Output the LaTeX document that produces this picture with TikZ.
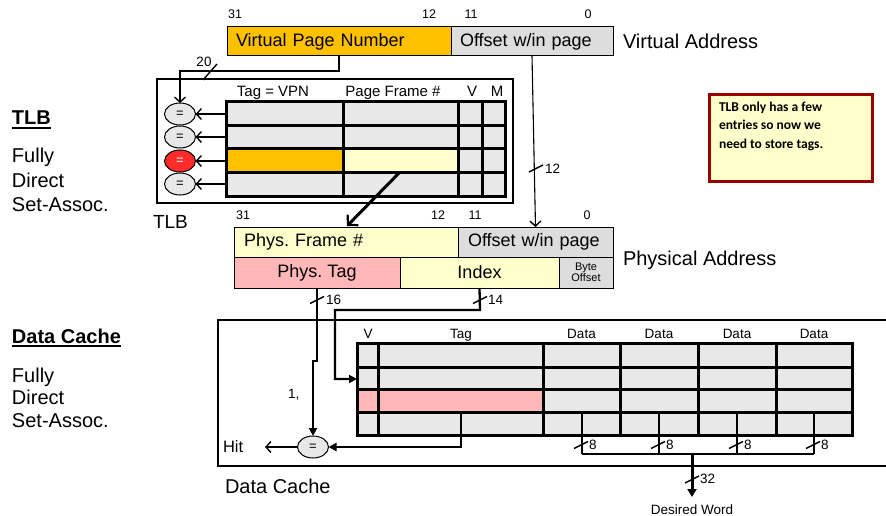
\documentclass[tikz,border=0pt]{standalone}
\usepackage{fontspec}
\setmainfont{Liberation Sans}
\newfontfamily\notefont{Carlito}
\usetikzlibrary{arrows.meta,shapes.geometric}
\definecolor{vpnorange}{HTML}{FFC000}
\definecolor{boxgray}{HTML}{DDDDDD}
\definecolor{cellgray}{HTML}{E8E8E8}
\definecolor{ltyellow}{HTML}{FFFFCC}
\definecolor{tagpink}{HTML}{FFB7B7}
\definecolor{cmpred}{HTML}{FF2B2B}
\definecolor{darkred}{HTML}{990000}
\newcommand\fs[2]{\fontsize{#1}{#2}\selectfont}
\frenchspacing
\begin{document}
\begin{tikzpicture}[x=1pt,y=-1pt,
  every node/.style={inner sep=0pt,outer sep=0pt},
  field/.style={draw,line width=1pt,anchor=north west,font=\fs{18}{20}},
  cmp/.style={ellipse,draw,line width=1pt,fill=cellgray,minimum width=31pt,minimum height=22pt,font=\fs{13}{13}},
  grid/.style={line width=3pt},
  bitnum/.style={font=\fs{12.5}{14},anchor=base},
  hdr/.style={font=\fs{15}{17},anchor=base},
  chdr/.style={font=\fs{13.5}{15},anchor=base},
  side/.style={font=\fs{20}{24},anchor=base west},
  sidebold/.style={font=\fs{20}{24}\bfseries,anchor=base west},
  wlabel/.style={font=\fs{13.5}{15},anchor=west},
  conn/.style={line width=2.3pt},
  thin/.style={line width=1.1pt},
  slash/.style={line width=1.4pt},
  openarrow/.style={-{Straight Barb[length=5pt,width=11pt,line width=1.4pt]}},
  filledarrow/.style={-{Triangle[length=8pt,width=8pt]}}
]
\useasboundingbox (0,0) rectangle (886,516);

% ---------------- Virtual address ----------------
\node[field,fill=vpnorange,minimum width=224pt,minimum height=29pt,text width=206pt,align=left] (vpn) at (227,27) {Virtual Page Number};
\node[field,fill=boxgray,minimum width=162pt,minimum height=29pt,text width=144pt,align=left] (voff) at (451,27) {Offset w/in page};
\node[bitnum] (v31) at (235,19) {31};
\node[bitnum] (v12) at (429,19) {12};
\node[bitnum] (v11) at (471,19) {11};
\node[bitnum] (v0) at (588,19) {0};
\node[font=\fs{20}{22},anchor=base west] (vaddr) at (623,49) {Virtual Address};

% ---------------- TLB ----------------
\node[draw,line width=1.5pt,anchor=north west,minimum width=356pt,minimum height=124pt] (tlbbox) at (157,79) {};
\fill[cellgray] (226,102) rectangle (505,196);
\fill[vpnorange] (226,149) rectangle (343,172);
\fill[ltyellow] (343,149) rectangle (458,172);
\draw[grid] (226,102) rectangle (505,196);
\foreach \yy in {126,149,172} \draw[grid] (226,\yy) -- (505,\yy);
\foreach \xx in {343,458,482} \draw[grid] (\xx,102) -- (\xx,196);
\node[hdr] (htag) at (273,97) {Tag = VPN};
\node[hdr] (hpfn) at (393,97) {Page Frame \#};
\node[hdr] (hv) at (472,97) {V};
\node[hdr] (hm) at (497,97) {M};

\node[cmp] (e1) at (180,114) {=};
\node[cmp] (e2) at (180,137) {=};
\node[cmp,fill=cmpred,text=white] (e3) at (180,161) {=};
\node[cmp] (e4) at (180,184) {=};
\coordinate (t1) at (226,114);
\coordinate (t2) at (226,137);
\coordinate (t3) at (226,161);
\coordinate (t4) at (226,184);
\foreach \i in {1,2,3,4} \draw[conn,openarrow] (t\i) -- (e\i.east);

\node[font=\fs{19}{21},anchor=base west] (tlblab) at (153,228) {TLB};

% VPN -> comparators
\coordinate (vpnjog) at (339,71);
\draw[conn,openarrow] (vpn.south) -- (vpnjog) -| (e1.north);
\coordinate (s20) at (210,72);
\draw[slash] ([shift={(-7,8)}]s20) -- ([shift={(7,-8)}]s20);
\node[font=\fs{13.5}{15}] (l20) at (204,62) {20};

% ---------------- Physical address ----------------
\node[field,fill=ltyellow,minimum width=224pt,minimum height=30pt,text width=204pt,align=left] (pfn) at (234,227) {Phys. Frame \#};
\node[field,fill=boxgray,minimum width=155pt,minimum height=30pt,text width=135pt,align=left] (poff) at (458,227) {Offset w/in page};
\node[field,fill=tagpink,minimum width=166pt,minimum height=31pt] (ptag) at (234,257) {Phys. Tag};
\node[field,fill=ltyellow,minimum width=159pt,minimum height=31pt] (pidx) at (400,257) {Index};
\node[field,fill=boxgray,minimum width=54pt,minimum height=31pt,font=\fs{11}{11.5},align=center] (pbyte) at (559,257) {Byte\\Offset};
\node[bitnum] (p31) at (243,219) {31};
\node[bitnum] (p12) at (438,219) {12};
\node[bitnum] (p11) at (475,219) {11};
\node[bitnum] (p0) at (587,219) {0};
\node[font=\fs{20}{22},anchor=base west] (paddr) at (623,265) {Physical Address};

% offset passes straight through
\draw[thin,openarrow] (voff.south) -- (poff.north);
\coordinate (s12) at (536,168.5);
\draw[slash] ([shift={(-7,3.5)}]s12) -- ([shift={(7,-3.5)}]s12);
\node[wlabel] (l12) at (545,169) {12};

% TLB frame number -> physical frame
\coordinate (pfnout) at (400,172);
\coordinate (pfnin) at (347,226);
\draw[line width=3pt,-{Straight Barb[length=7pt,width=15pt,line width=2.2pt]}] (pfnout) -- (pfnin);

% ---------------- Data cache ----------------
\coordinate (dcTR) at (890,320);
\coordinate (dcTL) at (218,320);
\coordinate (dcBL) at (218,466);
\coordinate (dcBR) at (890,466);
\draw[line width=1.5pt] (dcTR) -- (dcTL) -- (dcBL) -- (dcBR);

\fill[cellgray] (357,343) rectangle (852,435);
\fill[tagpink] (357,389) rectangle (543,412);
\draw[grid] (357,343) rectangle (852,435);
\foreach \yy in {367,389,412} \draw[grid] (357,\yy) -- (852,\yy);
\foreach \xx in {378,543,620,698,776} \draw[grid] (\xx,343) -- (\xx,435);

\node[chdr] (cv) at (368,338) {V};
\node[chdr] (ctag) at (461,338) {Tag};
\node[chdr] (cd1) at (581.5,338) {Data};
\node[chdr] (cd2) at (659,338) {Data};
\node[chdr] (cd3) at (737,338) {Data};
\node[chdr] (cd4) at (814,338) {Data};

% index -> set
\coordinate (idxjog1) at (480,310);
\coordinate (idxjog2) at (335,310);
\coordinate (setin) at (357,379);
\draw[conn,filledarrow] (pidx.south) -- (idxjog1) -- (idxjog2) |- (setin);
\coordinate (s14) at (480,300);
\draw[slash] ([shift={(-7,3.5)}]s14) -- ([shift={(7,-3.5)}]s14);
\node[wlabel] (l14) at (488,300) {14};

% tag compare
\node[cmp] (hit) at (313,447) {=};
\coordinate (tagjog1) at (317,361);
\coordinate (tagjog2) at (313,361);
\draw[conn,filledarrow] (ptag.south) -- (tagjog1) -- (tagjog2) -- (hit.north);
\coordinate (s16) at (317,300);
\draw[slash] ([shift={(-7,3.5)}]s16) -- ([shift={(7,-3.5)}]s16);
\node[wlabel] (l16) at (326,300) {16};
\node[font=\fs{13.5}{15},anchor=base west] (l1) at (288,398) {1,};

\coordinate (ctagout) at (461,412);
\coordinate (ctagjog) at (461,447);
\draw[conn,filledarrow] (ctagout) -- (ctagjog) -- (hit.east);
\coordinate (hitout) at (265,447);
\draw[conn,openarrow] (hit.west) -- (hitout);
\node[font=\fs{16.5}{18},anchor=west] (hitlab) at (223,447) {Hit};

% data words
\foreach \xx/\nm in {582/w1,659/w2,737/w3,814/w4}{
  \coordinate (\nm top) at (\xx,412);
  \coordinate (\nm bot) at (\xx,454);
  \draw[conn] (\nm top) -- (\nm bot);
  \draw[slash] (\xx-8,448.5) -- (\xx+6,441.5);
  \node[wlabel] (\nm lab) at (\xx+7,445) {8};
}
\draw[conn] (w1bot) -- (w4bot);
\coordinate (wordjoin) at (692,454);
\coordinate (wordend) at (692,497);
\draw[line width=3pt,-{Triangle[length=8pt,width=9pt]}] (wordjoin) -- (wordend);
\node[font=\fs{13.5}{15}] (desired) at (692,510) {Desired Word};
\coordinate (s32) at (692,479.5);
\draw[slash] ([shift={(-7,3.5)}]s32) -- ([shift={(7,-3.5)}]s32);
\node[wlabel] (l32) at (700,479) {32};

\node[font=\fs{20}{22},anchor=base west] (dclab) at (225,493) {Data Cache};

% ---------------- side labels ----------------
\node[sidebold] (sTLB) at (12,125) {TLB};
\draw[line width=1.8pt] ([yshift=-3pt]sTLB.base west) -- ([yshift=-3pt]sTLB.base east);
\node[side] (sT1) at (12,162) {Fully};
\node[side] (sT2) at (12,187) {Direct};
\node[side] (sT3) at (12,211) {Set-Assoc.};

\node[sidebold] (sDC) at (12,343) {Data Cache};
\draw[line width=1.8pt] ([yshift=-3pt]sDC.base west) -- ([yshift=-3pt]sDC.base east);
\node[side] (sD1) at (12,382) {Fully};
\node[side] (sD2) at (12,404) {Direct};
\node[side] (sD3) at (12,427) {Set-Assoc.};

% ---------------- note ----------------
\node[draw=darkred,line width=3pt,fill=ltyellow,anchor=north west,minimum width=163pt,minimum height=86pt] (note) at (709,95) {};
\node[anchor=north west,align=left,font=\notefont\bfseries\fs{13.5}{18.5}] (notetext) at (719,102) {TLB only has a few\\entries so now we\\need to store tags.};
\end{tikzpicture}
\end{document}
